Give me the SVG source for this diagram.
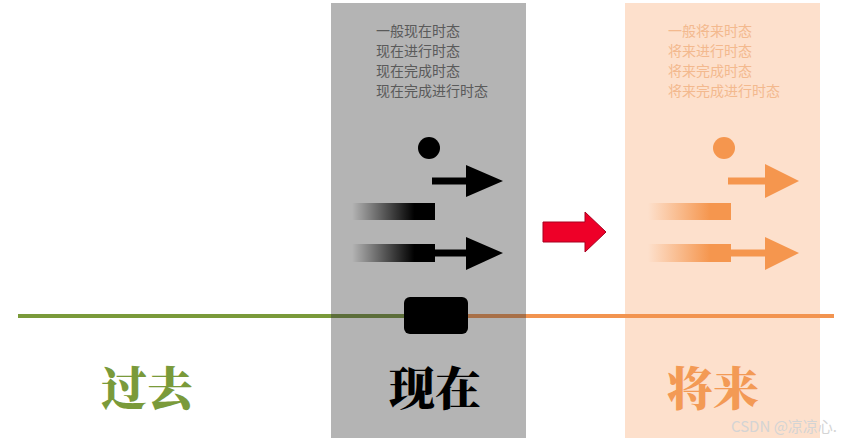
<svg xmlns="http://www.w3.org/2000/svg" width="848" height="442" viewBox="0 0 848 442">
<style>
.small{font-family:"Noto Sans CJK SC","Noto Sans",sans-serif;font-size:14px}
.big{font-family:"Noto Serif CJK SC","Noto Sans CJK SC",serif;font-size:46px;font-weight:900;text-anchor:middle}
</style>
<defs>
<linearGradient id="gb" x1="0" x2="1" y1="0" y2="0">
<stop offset="0" stop-color="#000" stop-opacity="0"/>
<stop offset="0.75" stop-color="#000" stop-opacity="1"/>
</linearGradient>
<linearGradient id="go" x1="0" x2="1" y1="0" y2="0">
<stop offset="0" stop-color="#f5964e" stop-opacity="0"/>
<stop offset="0.75" stop-color="#f5964e" stop-opacity="1"/>
</linearGradient>
</defs>
<rect width="848" height="442" fill="#fff"/>
<g id="present-panel">
<rect x="331" y="3" width="195" height="435" fill="#b4b4b4"/>
<text class="small" fill="#5a5a5a" x="376" y="36">一般现在时态</text>
<text class="small" fill="#5a5a5a" x="376" y="56">现在进行时态</text>
<text class="small" fill="#5a5a5a" x="376" y="76">现在完成时态</text>
<text class="small" fill="#5a5a5a" x="376" y="96">现在完成进行时态</text>
<circle cx="429" cy="148" r="11" fill="#000"/>
<rect x="432" y="177.5" width="36" height="7" fill="#000"/>
<polygon points="466,165 503,181 466,197" fill="#000"/>
<rect x="352" y="203" width="83" height="17" fill="url(#gb)"/>
<rect x="352" y="244" width="83" height="18" fill="url(#gb)"/>
<rect x="434" y="249.5" width="34" height="7" fill="#000"/>
<polygon points="466,237 503,253 466,270" fill="#000"/>
</g>
<g id="future-panel">
<rect x="625" y="3" width="195" height="435" fill="#fde0cc"/>
<text class="small" fill="#f3b98e" x="668" y="36">一般将来时态</text>
<text class="small" fill="#f3b98e" x="668" y="56">将来进行时态</text>
<text class="small" fill="#f3b98e" x="668" y="76">将来完成时态</text>
<text class="small" fill="#f3b98e" x="668" y="96">将来完成进行时态</text>
<circle cx="724" cy="148" r="11" fill="#f5964e"/>
<rect x="728" y="177.5" width="39" height="7" fill="#f5964e"/>
<polygon points="765,164 799,181 765,198" fill="#f5964e"/>
<rect x="648" y="203" width="83" height="17" fill="url(#go)"/>
<rect x="648" y="244" width="83" height="18" fill="url(#go)"/>
<rect x="730" y="249.5" width="37" height="7" fill="#f5964e"/>
<polygon points="765,237 799,253 765,270" fill="#f5964e"/>
</g>
<g id="connectors">
<rect x="18" y="314" width="313" height="4" fill="#7a9a3a"/>
<rect x="331" y="314" width="75" height="4" fill="#5c6e3a"/>
<rect x="466" y="314" width="60" height="4" fill="#a87048"/>
<rect x="526" y="314" width="308" height="4" fill="#f29450"/>
<polygon points="543,222 585,222 585,212 606,232 585,252 585,242 543,242" fill="#ee0028" stroke="#a80020" stroke-width="1"/>
</g>
<g id="now-marker">
<rect x="404" y="297" width="64" height="37" rx="6" fill="#000"/>
</g>
<g id="labels">
<text class="big" fill="#7a9a3a" x="147" y="405">过去</text>
<text class="big" fill="#000" x="435" y="405">现在</text>
<text class="big" fill="#f39a55" x="713" y="405">将来</text>
</g>
<text font-family="Noto Sans CJK SC, sans-serif" font-size="15" fill="#d4d4d4" x="731" y="432">CSDN @凉凉心.</text>
</svg>
